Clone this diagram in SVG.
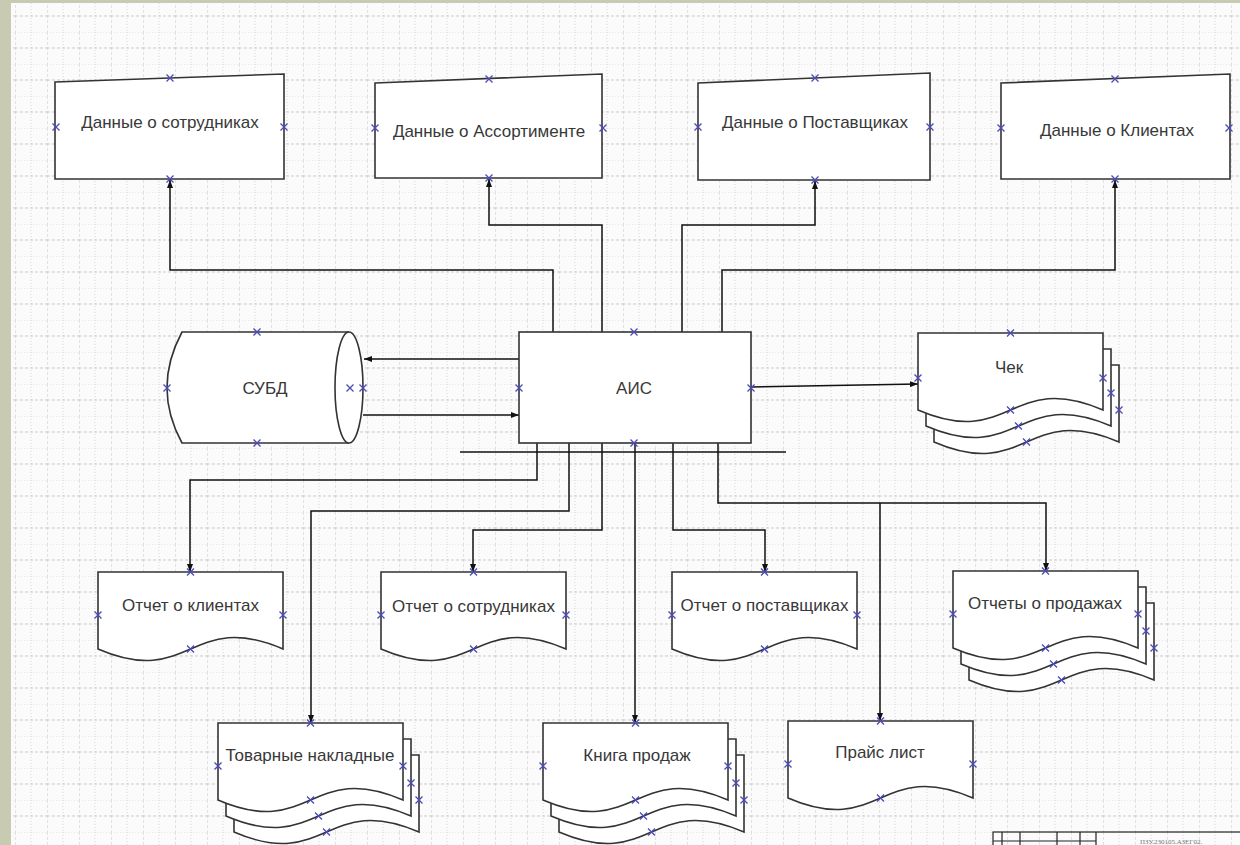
<svg xmlns="http://www.w3.org/2000/svg" xmlns:xlink="http://www.w3.org/1999/xlink" width="1240" height="845" viewBox="0 0 1240 845">
<style>
.shape{fill:#fff;stroke:#333;stroke-width:1.6}
.lbl{font-family:"Liberation Sans",Arial,sans-serif;font-size:17px;fill:#383838;text-anchor:middle}
.conn{fill:none;stroke:#111;stroke-width:1.5}
.x{fill:none;stroke:#4a4ab8;stroke-width:1.3}
.tb{fill:none;stroke:#222;stroke-width:1.2}
</style>
<defs>
<pattern id="grid" width="32" height="32" patternUnits="userSpaceOnUse" x="15" y="0">
<line x1="0" y1="0" x2="0" y2="32" stroke="#c9c9c9" stroke-width="1" stroke-dasharray="3 2"/>
<line x1="16" y1="0" x2="16" y2="32" stroke="#d6d6d6" stroke-width="1" stroke-dasharray="1 2"/>
<line x1="0" y1="16" x2="32" y2="16" stroke="#c9c9c9" stroke-width="1" stroke-dasharray="3 2"/>
<line x1="0" y1="0" x2="32" y2="0" stroke="#d6d6d6" stroke-width="1" stroke-dasharray="1 2"/>
</pattern>
<marker id="arr" viewBox="0 0 8 6" refX="8" refY="3" markerWidth="8" markerHeight="6" markerUnits="userSpaceOnUse" orient="auto">
<path d="M0,0 L8,3 L0,6 Z" fill="#111"/>
</marker>
<path id="doc" d="M0,0 H185 V77 C92.5,37 92.5,117 0,77 Z"/>
<path id="xm" d="M-3.5,-3.5 L3.5,3.5 M-3.5,3.5 L3.5,-3.5"/>
</defs>
<rect x="0" y="0" width="1240" height="845" fill="#c8cbb2"/>
<rect x="11" y="3" width="1229" height="842" fill="#fbfbfb"/>
<rect x="11" y="3" width="1229" height="842" fill="url(#grid)"/>

<g id="connectors">
<path class="conn" d="M553,332 V270 H170 V180" marker-end="url(#arr)"/>
<path class="conn" d="M602,332 V225 H489 V179" marker-end="url(#arr)"/>
<path class="conn" d="M682,332 V225 H815 V181" marker-end="url(#arr)"/>
<path class="conn" d="M722,332 V270 H1115 V180" marker-end="url(#arr)"/>
<path class="conn" d="M519,359 H364" marker-end="url(#arr)"/>
<path class="conn" d="M363,415 H519" marker-end="url(#arr)"/>
<path class="conn" d="M751,387 L918,384" marker-end="url(#arr)"/>
<path class="conn" d="M537,443 V480 H190 V572" marker-end="url(#arr)"/>
<path class="conn" d="M569,443 V511 H311 V723" marker-end="url(#arr)"/>
<path class="conn" d="M602,443 V530 H473 V572" marker-end="url(#arr)"/>
<path class="conn" d="M635,443 V723" marker-end="url(#arr)"/>
<path class="conn" d="M673,443 V530 H765 V572" marker-end="url(#arr)"/>
<path class="conn" d="M718,443 V503 H1046 V571" marker-end="url(#arr)"/>
<path class="conn" d="M880,503 V721" marker-end="url(#arr)"/>
<path class="conn" d="M460,452 H786"/>
</g>

<g id="n-sotr">
<polygon class="shape" points="55,82 284,74 284,179 55,179"/>
<text class="lbl" x="170" y="128">Данные о сотрудниках</text>
<use href="#xm" class="x" x="170" y="78"/><use href="#xm" class="x" x="56" y="127"/><use href="#xm" class="x" x="284" y="127"/><use href="#xm" class="x" x="170" y="179"/>
</g>
<g id="n-assort">
<polygon class="shape" points="375,83 602,74 602,178 375,178"/>
<text class="lbl" x="489" y="137">Данные о Ассортименте</text>
<use href="#xm" class="x" x="489" y="79"/><use href="#xm" class="x" x="375" y="128"/><use href="#xm" class="x" x="603" y="128"/><use href="#xm" class="x" x="489" y="178"/>
</g>
<g id="n-post">
<polygon class="shape" points="698,83 930,73 930,180 698,180"/>
<text class="lbl" x="815" y="128">Данные о Поставщиках</text>
<use href="#xm" class="x" x="815" y="78"/><use href="#xm" class="x" x="698" y="127"/><use href="#xm" class="x" x="930" y="127"/><use href="#xm" class="x" x="815" y="180"/>
</g>
<g id="n-klient">
<polygon class="shape" points="1001,83 1230,74 1230,179 1001,179"/>
<text class="lbl" x="1117" y="136">Данные о Клиентах</text>
<use href="#xm" class="x" x="1115" y="79"/><use href="#xm" class="x" x="1001" y="128"/><use href="#xm" class="x" x="1229" y="128"/><use href="#xm" class="x" x="1115" y="179"/>
</g>

<g id="n-subd">
<path class="shape" d="M182,332 H349 A14,55.5 0 0 1 349,443 H182 Q152,388 182,332 Z"/>
<path class="shape" d="M349,332 A14,55.5 0 0 0 349,443"/>
<text class="lbl" x="265" y="394">СУБД</text>
<use href="#xm" class="x" x="257" y="332"/><use href="#xm" class="x" x="167" y="388"/><use href="#xm" class="x" x="350" y="388"/><use href="#xm" class="x" x="363" y="388"/><use href="#xm" class="x" x="257" y="443"/>
</g>

<g id="n-ais">
<rect class="shape" x="519" y="332" width="232" height="111"/>
<text class="lbl" x="634" y="394">АИС</text>
<use href="#xm" class="x" x="634" y="332"/><use href="#xm" class="x" x="519" y="388"/><use href="#xm" class="x" x="751" y="388"/><use href="#xm" class="x" x="634" y="443"/>
</g>

<g id="n-chek" transform="translate(918,333)">
<use href="#doc" class="shape" x="16" y="32"/><use href="#doc" class="shape" x="8" y="16"/><use href="#doc" class="shape"/>
<text class="lbl" x="91" y="40">Чек</text>
<use href="#xm" class="x" x="92.5" y="0"/><use href="#xm" class="x" x="0" y="45"/><use href="#xm" class="x" x="185" y="45"/><use href="#xm" class="x" x="193" y="60"/><use href="#xm" class="x" x="201" y="77"/><use href="#xm" class="x" x="92.5" y="77"/><use href="#xm" class="x" x="100.5" y="93"/><use href="#xm" class="x" x="108.5" y="109"/>
</g>

<g id="n-otch-kl" transform="translate(98,572)">
<use href="#doc" class="shape"/>
<text class="lbl" x="92.5" y="39">Отчет о клиентах</text>
<use href="#xm" class="x" x="92.5" y="0"/><use href="#xm" class="x" x="0" y="43"/><use href="#xm" class="x" x="185" y="43"/><use href="#xm" class="x" x="92.5" y="77"/>
</g>
<g id="n-otch-sotr" transform="translate(381,572)">
<use href="#doc" class="shape"/>
<text class="lbl" x="92.5" y="40">Отчет о сотрудниках</text>
<use href="#xm" class="x" x="92.5" y="0"/><use href="#xm" class="x" x="0" y="43"/><use href="#xm" class="x" x="185" y="43"/><use href="#xm" class="x" x="92.5" y="77"/>
</g>
<g id="n-otch-post" transform="translate(672,572)">
<use href="#doc" class="shape"/>
<text class="lbl" x="92.5" y="39">Отчет о поставщиках</text>
<use href="#xm" class="x" x="92.5" y="0"/><use href="#xm" class="x" x="0" y="43"/><use href="#xm" class="x" x="185" y="43"/><use href="#xm" class="x" x="92.5" y="77"/>
</g>
<g id="n-otch-prod" transform="translate(953,571)">
<use href="#doc" class="shape" x="16" y="32"/><use href="#doc" class="shape" x="8" y="16"/><use href="#doc" class="shape"/>
<text class="lbl" x="92" y="38">Отчеты о продажах</text>
<use href="#xm" class="x" x="92.5" y="0"/><use href="#xm" class="x" x="0" y="43"/><use href="#xm" class="x" x="185" y="43"/><use href="#xm" class="x" x="193" y="60"/><use href="#xm" class="x" x="201" y="77"/><use href="#xm" class="x" x="92.5" y="77"/><use href="#xm" class="x" x="100.5" y="93"/><use href="#xm" class="x" x="108.5" y="109"/>
</g>
<g id="n-tovar" transform="translate(218,723)">
<use href="#doc" class="shape" x="16" y="32"/><use href="#doc" class="shape" x="8" y="16"/><use href="#doc" class="shape"/>
<text class="lbl" x="92" y="38">Товарные накладные</text>
<use href="#xm" class="x" x="92.5" y="0"/><use href="#xm" class="x" x="0" y="43"/><use href="#xm" class="x" x="185" y="43"/><use href="#xm" class="x" x="193" y="60"/><use href="#xm" class="x" x="201" y="77"/><use href="#xm" class="x" x="92.5" y="77"/><use href="#xm" class="x" x="100.5" y="93"/><use href="#xm" class="x" x="108.5" y="109"/>
</g>
<g id="n-kniga" transform="translate(543,723)">
<use href="#doc" class="shape" x="16" y="32"/><use href="#doc" class="shape" x="8" y="16"/><use href="#doc" class="shape"/>
<text class="lbl" x="94" y="38">Книга продаж</text>
<use href="#xm" class="x" x="92.5" y="0"/><use href="#xm" class="x" x="0" y="43"/><use href="#xm" class="x" x="185" y="43"/><use href="#xm" class="x" x="193" y="60"/><use href="#xm" class="x" x="201" y="77"/><use href="#xm" class="x" x="92.5" y="77"/><use href="#xm" class="x" x="100.5" y="93"/><use href="#xm" class="x" x="108.5" y="109"/>
</g>
<g id="n-price" transform="translate(788,721)">
<use href="#doc" class="shape"/>
<text class="lbl" x="92" y="37">Прайс лист</text>
<use href="#xm" class="x" x="92.5" y="0"/><use href="#xm" class="x" x="0" y="43"/><use href="#xm" class="x" x="185" y="43"/><use href="#xm" class="x" x="92.5" y="77"/>
</g>

<g id="titleblock">
<rect x="993" y="832" width="260" height="20" fill="#fff" class="tb"/>
<path class="tb" d="M993,841 H1096 M1002,832 V845 M1020,832 V845 M1057,832 V845 M1080,832 V845 M1096,832 V845"/>
<text x="1140" y="844" font-family="Liberation Serif,serif" font-size="7" fill="#777">ПЗУ.230105.АЗЕГ02.</text>
</g>
</svg>
